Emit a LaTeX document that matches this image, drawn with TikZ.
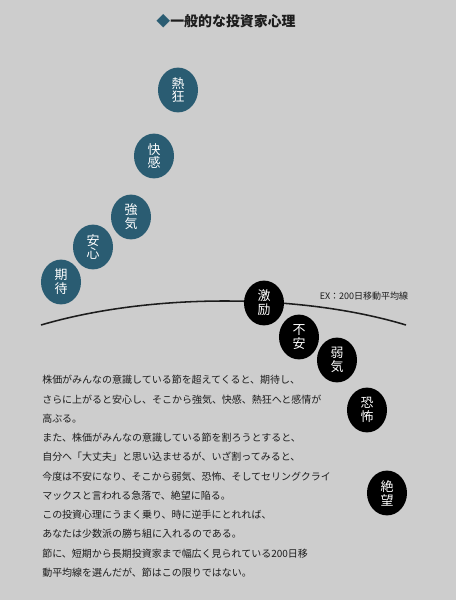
\documentclass[tikz,border=0pt]{standalone}
\usepackage{fontspec}
\setmainfont{Noto Sans CJK JP}
\usepackage{tikz}
\usetikzlibrary{positioning,shapes.geometric}
\definecolor{pagegray}{RGB}{205,205,205}
\definecolor{mindblue}{RGB}{42,92,114}
\definecolor{inkdark}{RGB}{28,28,28}

\begin{document}
\begin{tikzpicture}[x=0.025cm,y=-0.025cm,
  up/.style={ellipse,fill=mindblue,text=white,inner sep=0pt,align=center,
             font=\fontsize{9.2pt}{9.9pt}\selectfont,minimum width=1.0cm,minimum height=1.12cm},
  down/.style={up,fill=black},
  body/.style={anchor=north west,inner sep=0pt,align=left,text=inkdark,
               font=\fontsize{7.1pt}{13.7pt}\selectfont}]
  \fill[pagegray] (0,0) rectangle (456,600);
  \node[font=\bfseries\fontsize{9.9pt}{11pt}\selectfont,text=inkdark] (title) at (226,21)
    {\textcolor{mindblue}{◆}一般的な投資家心理};
  \coordinate (maL) at (41,325);
  \coordinate (maR) at (406,325);
  \draw[line width=1.1pt,inkdark] (maL) .. controls (150,293) and (300,293) .. (maR);
  \node[text=inkdark,font=\fontsize{6.4pt}{7pt}\selectfont] (ex) at (364,296) {EX：200日移動平均線};
  \node[up] (kitai)   at (61,282)  {期\\待};
  \node[up] (anshin)  at (93,247)  {安\\心};
  \node[up] (kyoki)   at (131,217) {強\\気};
  \node[up] (kaikan)  at (154,156) {快\\感};
  \node[up] (nekkyo)  at (178,90)  {熱\\狂};
  \node[down] (gekirei) at (264,303) {激\\励};
  \node[down] (fuan)    at (299,337) {不\\安};
  \node[down] (yowaki)  at (337,360) {弱\\気};
  \node[down] (kyofu)   at (367,410) {恐\\怖};
  \node[down] (zetsubo) at (387,493) {絶\\望};
  \node[body] (story) at (42,375) {%
    株価がみんなの意識している節を超えてくると、期待し、\\
    さらに上がると安心し、そこから強気、快感、熱狂へと感情が\\
    高ぶる。\\
    また、株価がみんなの意識している節を割ろうとすると、\\
    自分へ「大丈夫」と思い込ませるが、いざ割ってみると、\\
    今度は不安になり、そこから弱気、恐怖、そしてセリングクライ\\
    マックスと言われる急落で、絶望に陥る。\\
    この投資心理にうまく乗り、時に逆手にとれれば、\\
    あなたは少数派の勝ち組に入れるのである。\\
    節に、短期から長期投資家まで幅広く見られている200日移\\
    動平均線を選んだが、節はこの限りではない。};
\end{tikzpicture}
\end{document}
